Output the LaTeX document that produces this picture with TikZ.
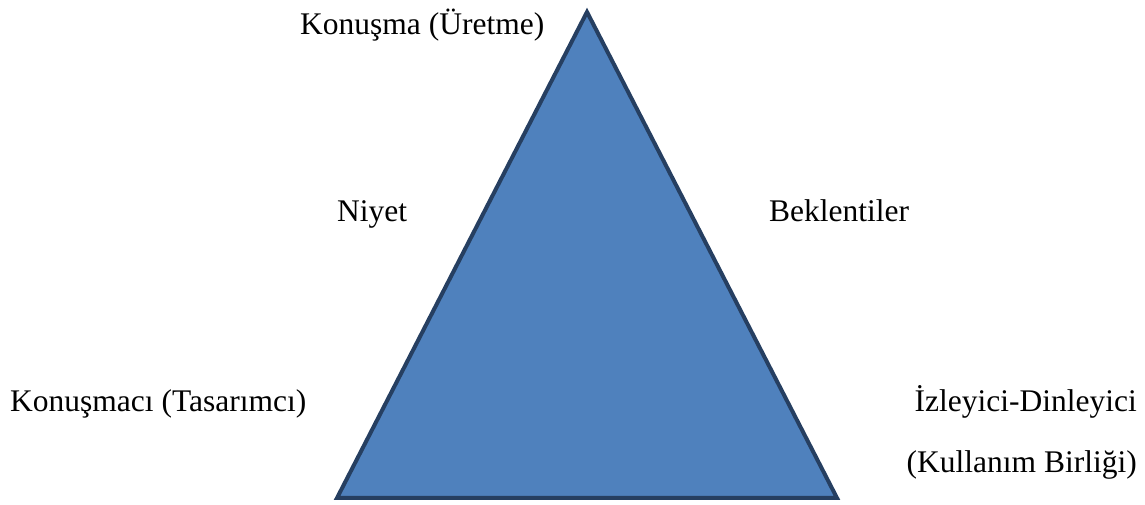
\documentclass[tikz,border=0pt]{standalone}
\usepackage{fontspec}
\setmainfont{Liberation Serif}
\definecolor{trifill}{HTML}{4F81BD}
\definecolor{triline}{HTML}{263F61}
\tikzset{
  lbl/.style={font=\fontsize{31.5}{34}\selectfont, inner sep=0pt, anchor=base west},
  lblr/.style={lbl, anchor=base east}
}
\begin{document}
\begin{tikzpicture}[x=1pt,y=1pt]
      \useasboundingbox (0,0) rectangle (1145,505);
      \coordinate (top) at (587,493);
      \coordinate (left) at (337,7);
      \coordinate (right) at (837,7);
      \draw[fill=trifill, draw=triline, line width=4pt, line join=miter]
        (top) -- (left) -- (right) -- cycle;
      \node[lbl] (uretme) at (300,470) {Konuşma (Üretme)};
      \node[lbl] (niyet) at (337,283) {Niyet};
      \node[lbl] (beklenti) at (769,283) {Beklentiler};
      \node[lbl] (konusmaci) at (10,93) {Konuşmacı (Tasarımcı)};
      \node[lblr] (izleyici) at (1137,93) {İzleyici-Dinleyici};
      \node[lblr] (birlik) at (1137,32) {(Kullanım Birliği)};
    \end{tikzpicture}
\end{document}
